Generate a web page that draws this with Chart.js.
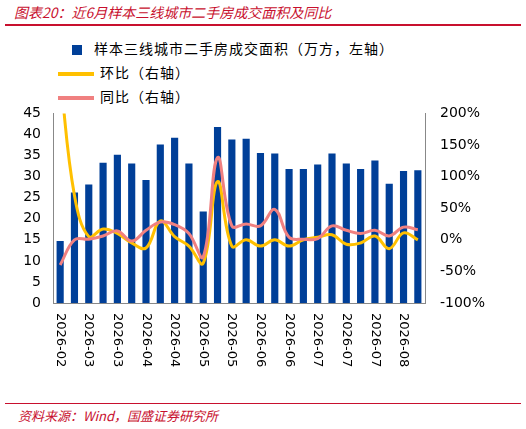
<!DOCTYPE html>
<html><head><meta charset="utf-8">
<script src="https://cdn.jsdelivr.net/npm/chart.js@4/dist/chart.umd.min.js"></script>
<style>
body{margin:0;width:526px;height:429px;background:#fff;font-family:"Noto Sans CJK SC","DejaVu Sans",sans-serif;position:relative;overflow:hidden}
#title{position:absolute;left:14px;top:2px;color:#c8102e;font-style:italic;font-size:14px}
#tline{position:absolute;left:5px;right:5px;top:24px;border-top:2px solid #c8102e}
#bline{position:absolute;left:5px;right:5px;top:403px;border-top:1px solid #c8102e}
#src{position:absolute;left:18px;top:406px;color:#c8102e;font-style:italic;font-size:13px}
#legend{position:absolute;left:72px;top:36px;font-size:14px;color:#000;line-height:24px;letter-spacing:1px}
.sw{display:inline-block;vertical-align:middle;margin-right:6px}
#wrap{position:absolute;left:0;top:95px;width:526px;height:300px}
</style></head><body>
<div id="title">图表20：近6月样本三线城市二手房成交面积及同比</div>
<div id="tline"></div>
<div id="legend">
<div><span class="sw" style="width:10px;height:10px;background:#003f98;margin-left:0;margin-right:12px"></span>样本三线城市二手房成交面积（万方，左轴）</div>
<div><span class="sw" style="width:36px;height:4px;background:#ffc000;margin-left:-14px"></span>环比（右轴）</div>
<div><span class="sw" style="width:36px;height:4px;background:#f08080;margin-left:-14px"></span>同比（右轴）</div>
</div>
<div id="wrap"><canvas id="c"></canvas></div>
<div id="bline"></div>
<div id="src">资料来源：Wind，国盛证券研究所</div>
<script>
const labels = ["2026-02","2026-02","2026-03","2026-03","2026-03","2026-03","2026-04","2026-04","2026-04","2026-04","2026-05","2026-05","2026-05","2026-05","2026-06","2026-06","2026-06","2026-06","2026-07","2026-07","2026-07","2026-07","2026-07","2026-08","2026-08","2026-08"];
const tickLabels = ["2026-02","2026-03","2026-03","2026-04","2026-04","2026-05","2026-05","2026-06","2026-06","2026-07","2026-07","2026-07","2026-08"];
const area = [14.7,26.2,28.1,33.3,35.2,33.1,29.2,37.6,39.2,33.1,21.7,41.8,38.8,39.0,35.6,35.5,31.8,31.8,32.9,35.5,33.1,31.8,33.8,28.3,31.3,31.5];
const mom = [260,70,5,17,10,-5,-13,30,5,-10,-37,92,-10,0,-10,0,-10,0,4,8,-7,-5,6,-14,11,0];
const yoy = [-40,0,1,6,14,-2,15,28,24,10,-27,130,22,25,22,48,4,1,2,22,15,10,15,6,20,16];

const font = {family:"DejaVu Sans", size:14};
const rotLabels = {
  id:"rotLabels",
  afterDraw(chart){
    const x = chart.scales.x, ctx = chart.ctx;
    ctx.save();
    ctx.font = "13px DejaVu Sans";
    ctx.fillStyle = "#000";
    ctx.textBaseline = "middle";
    tickLabels.forEach((t,i)=>{
      const px = x.getPixelForValue(i*2);
      ctx.save();
      ctx.translate(px, x.top + 10);
      ctx.rotate(Math.PI/2);
      ctx.fillText(t, 0, 0);
      ctx.restore();
    });
    ctx.restore();
  }
};
new Chart(document.getElementById("c"), {
  data:{labels, datasets:[
    {type:"line",data:mom,borderColor:"#ffc000",borderWidth:3,pointRadius:0,tension:0.4,yAxisID:"y1",order:1},
    {type:"line",data:yoy,borderColor:"#f08080",borderWidth:3,pointRadius:0,tension:0.4,yAxisID:"y1",order:0},
    {type:"bar",data:area,backgroundColor:"#003f98",categoryPercentage:1,barPercentage:0.5,yAxisID:"y",order:2}
  ]},
  options:{
    responsive:true,maintainAspectRatio:false,animation:false,
    layout:{padding:{top:8,left:0,right:0}},
    plugins:{legend:{display:false},tooltip:{enabled:false}},
    scales:{
      x:{grid:{display:false,drawTicks:false},border:{color:"#888"},ticks:{display:false},afterFit(s){s.height=92;}},
      y:{min:0,max:45,ticks:{stepSize:5,font,color:"#000",padding:4},grid:{display:false},border:{color:"#888"},afterFit(s){s.width=53;}},
      y1:{position:"right",min:-100,max:200,ticks:{stepSize:50,font,color:"#000",padding:10,callback:v=>v+"%"},grid:{display:false,drawTicks:true,tickLength:5,drawOnChartArea:false},border:{color:"#888"},afterFit(s){s.width=101;}}
    }
  },
  plugins:[rotLabels]
});
</script>
</body></html>
